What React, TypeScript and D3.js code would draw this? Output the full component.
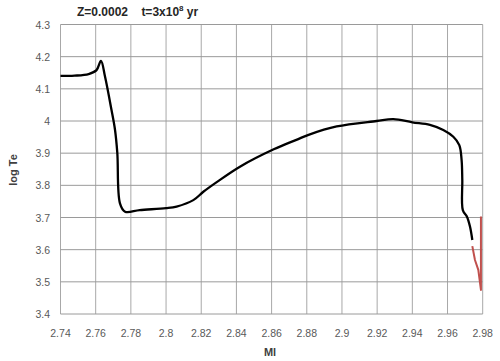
import React, { useEffect, useRef } from 'react'
import * as d3 from 'd3'

// black track (Ml, log Te)
const mainMl = [2.74, 2.748, 2.756, 2.7605, 2.763, 2.7653, 2.769, 2.771, 2.7723, 2.7738, 2.7767, 2.785, 2.8, 2.806, 2.8155, 2.8212, 2.8288, 2.842, 2.8612, 2.8748, 2.881, 2.897, 2.9197, 2.9292, 2.94, 2.95, 2.9576, 2.9633, 2.9667, 2.968, 2.9684, 2.9687, 2.971, 2.9728, 2.9741]
const mainTe = [4.14, 4.141, 4.146, 4.158, 4.187, 4.138, 4.034, 3.972, 3.9, 3.744, 3.718, 3.723, 3.729, 3.734, 3.754, 3.78, 3.81, 3.858, 3.912, 3.943, 3.957, 3.983, 4.0, 4.006, 3.996, 3.988, 3.972, 3.951, 3.925, 3.879, 3.817, 3.723, 3.703, 3.671, 3.63]

// red tail
const tailMl = [2.9741, 2.9756, 2.9775, 2.979, 2.979]
const tailTe = [3.611, 3.568, 3.537, 3.475, 3.703]

const xTicks = [2.74, 2.76, 2.78, 2.8, 2.82, 2.84, 2.86, 2.88, 2.9, 2.92, 2.94, 2.96, 2.98]
const yTicks = [3.4, 3.5, 3.6, 3.7, 3.8, 3.9, 4, 4.1, 4.2, 4.3]

export default function App() {
  const ref = useRef<SVGSVGElement>(null)

  useEffect(() => {
    const svg = d3.select(ref.current)
    svg.selectAll('*').remove()

    const left = 60.5, right = 482.7, top = 24.5, bottom = 314
    const x = d3.scaleLinear().domain([2.74, 2.98]).range([left, right])
    const y = d3.scaleLinear().domain([3.4, 4.3]).range([bottom, top])
    const font = "'Liberation Sans', Arial, sans-serif"

    svg.append('rect').attr('width', 500).attr('height', 361).attr('fill', '#fff')

    // grid
    svg.selectAll('line.v').data(xTicks).enter().append('line')
      .attr('x1', d => x(d)).attr('x2', d => x(d))
      .attr('y1', top).attr('y2', bottom)
      .attr('stroke', '#a8a8a8').attr('stroke-width', 1)
    svg.selectAll('line.h').data(yTicks).enter().append('line')
      .attr('x1', left).attr('x2', right)
      .attr('y1', d => y(d)).attr('y2', d => y(d))
      .attr('stroke', '#9a9a9a').attr('stroke-width', 1)

    // tick labels
    svg.selectAll('text.xt').data(xTicks).enter().append('text')
      .attr('x', d => x(d)).attr('y', 337)
      .attr('text-anchor', 'middle')
      .attr('font-family', font).attr('font-size', 10.5).attr('fill', '#595959')
      .text(d => String(d))
    svg.selectAll('text.yt').data(yTicks).enter().append('text')
      .attr('x', 50).attr('y', d => y(d) + 4)
      .attr('text-anchor', 'end')
      .attr('font-family', font).attr('font-size', 10.5).attr('fill', '#595959')
      .text(d => String(d))

    const line = d3.line<[number, number]>()
      .x(d => x(d[0])).y(d => y(d[1]))
      .curve(d3.curveCatmullRom.alpha(0.5))

    svg.append('path')
      .attr('d', line(mainMl.map((m, i) => [m, mainTe[i]] as [number, number])))
      .attr('fill', 'none').attr('stroke', '#000').attr('stroke-width', 2.3)
      .attr('stroke-linejoin', 'round')

    svg.append('path')
      .attr('d', d3.line<[number, number]>().x(d => x(d[0])).y(d => y(d[1]))(tailMl.map((m, i) => [m, tailTe[i]] as [number, number])))
      .attr('fill', 'none').attr('stroke', '#c0504d').attr('stroke-width', 2)
      .attr('stroke-linejoin', 'round')

    // titles
    const title = svg.append('text')
      .attr('x', 77).attr('y', 16)
      .attr('font-family', font).attr('font-size', 12).attr('font-weight', 'bold').attr('fill', '#262626')
    title.append('tspan').text('Z=0.0002\u00a0\u00a0\u00a0\u00a0t=3x10')
    title.append('tspan').attr('font-size', 8).attr('dy', -5).text('8')
    title.append('tspan').attr('dy', 5).text(' yr')

    svg.append('text')
      .attr('x', 270).attr('y', 356)
      .attr('text-anchor', 'middle')
      .attr('font-family', font).attr('font-size', 11).attr('font-weight', 'bold').attr('fill', '#404040')
      .text('Ml')

    svg.append('text')
      .attr('transform', 'translate(17,170) rotate(-90)')
      .attr('text-anchor', 'middle')
      .attr('font-family', font).attr('font-size', 11).attr('font-weight', 'bold').attr('fill', '#404040')
      .text('log Te')
  }, [])

  return (
    <svg ref={ref} width={500} height={361}
      style={{ position: 'absolute', left: 0, top: 0, display: 'block' }} />
  )
}
